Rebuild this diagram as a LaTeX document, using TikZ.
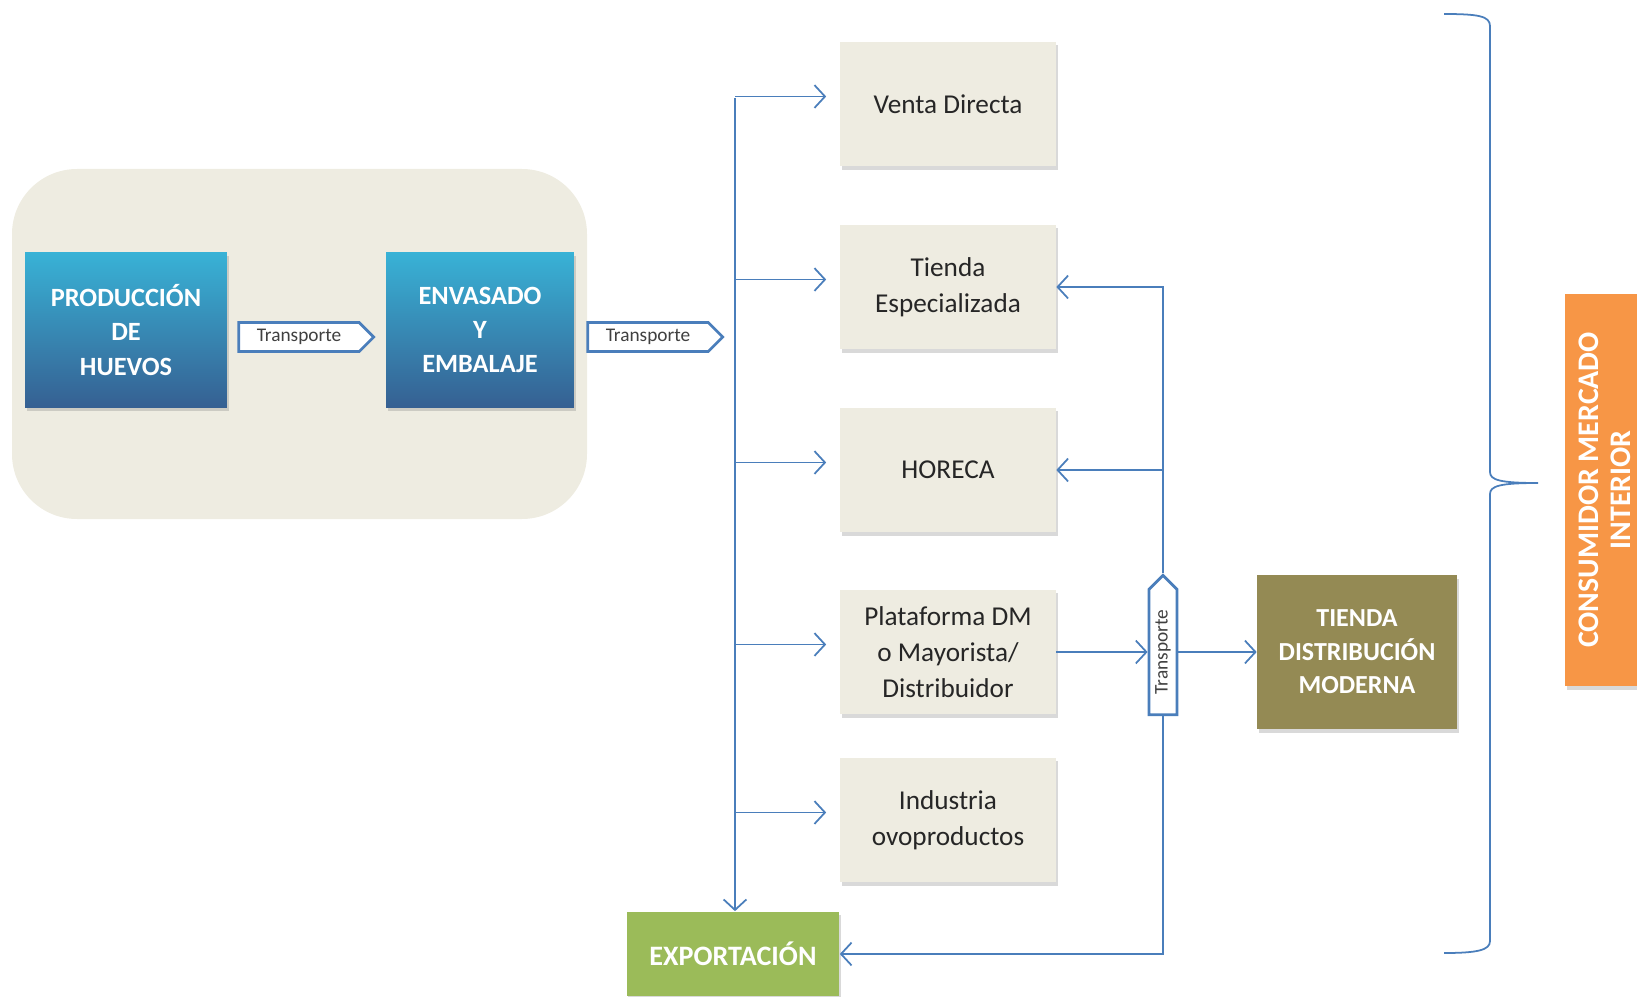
\documentclass[tikz,border=0pt]{standalone}
\usepackage{fontspec}
\setmainfont{Carlito}
\usepackage{xcolor}
\usepackage{tikz}
\usetikzlibrary{arrows.meta, positioning, shapes.symbols, shadows, calc}

\definecolor{linkblue}{HTML}{4A7EBB}
\definecolor{paper}{HTML}{EEECE1}
\definecolor{topblue}{RGB}{56,178,214}
\definecolor{botblue}{RGB}{54,96,146}
\definecolor{olive}{HTML}{948A54}
\definecolor{leaf}{HTML}{9BBB59}
\definecolor{tang}{HTML}{F79646}

\begin{document}
\begin{tikzpicture}[
    x=0.02cm, y=-0.02cm,
    flow/.style={draw=linkblue, line width=1pt, -{Straight Barb[length=6pt,width=13pt]}},
    boxshadow/.style={drop shadow={shadow xshift=1pt, shadow yshift=-2pt, opacity=0.3}},
    stage/.style={top color=topblue, bottom color=botblue, text=white, align=center,
      font=\fontsize{15}{19.5}\selectfont\bfseries, minimum height=3.1cm, boxshadow},
    outlet/.style={fill=paper, text=black!85, align=center, minimum width=4.32cm,
      minimum height=2.5cm, font=\fontsize{15.5}{20.5}\selectfont, boxshadow},
    block/.style={text=white, align=center, font=\fontsize{15.5}{19}\selectfont\bfseries, boxshadow},
    carrier/.style={signal, draw=linkblue, line width=1.6pt, fill=white, signal pointer angle=90,
      inner sep=1pt, text=black!75, font=\fontsize{11}{13}\selectfont}
  ]
  \useasboundingbox (0,0) rectangle (1637,997);
  \fill[paper, rounded corners=1.3cm] (12,169) rectangle (587,519);

  \node[stage, minimum width=4.04cm] (prod) at (126,330) {PRODUCCIÓN\\DE\\HUEVOS};
  \node[stage, minimum width=3.76cm] (env) at (480,330) {ENVASADO\\Y\\EMBALAJE};
  \node[carrier, signal to=east, minimum width=2.7cm, minimum height=0.58cm] (tr1) at (299,337) {Transporte};
  \node[carrier, signal to=east, minimum width=2.7cm, minimum height=0.58cm] (tr2) at (648,337) {Transporte};

  \node[outlet] (vd) at (948,104) {Venta Directa};
  \node[outlet] (te) at (948,287) {Tienda\\Especializada};
  \node[outlet] (ho) at (948,470) {HORECA};
  \node[outlet] (pl) at (948,652) {Plataforma DM\\o Mayorista/\\Distribuidor};
  \node[outlet] (ind) at (948,820) {Industria\\ovoproductos};

  \node[block, fill=leaf, minimum width=4.26cm, minimum height=1.7cm,
    font=\fontsize{16}{19}\selectfont\bfseries] (exp) at (733,954) {EXPORTACIÓN};
  \node[block, fill=olive, minimum width=4cm, minimum height=3.08cm,
    font=\fontsize{14.8}{19}\selectfont\bfseries] (tdm) at (1357,652) {TIENDA\\DISTRIBUCIÓN\\MODERNA};
  \node[block, fill=tang, rotate=90, minimum width=7.86cm, minimum height=1.6cm,
    font=\fontsize{17}{18.5}\selectfont\bfseries] (cmi) at (1605,490) {CONSUMIDOR MERCADO\\INTERIOR};

  \coordinate (trunk) at (735,98);
  \draw[flow] (trunk) -- (trunk |- exp.north);
  \foreach \b in {vd,te,ho,pl,ind}
    \draw[flow] ([yshift=0.15cm]trunk |- \b.west) -- ([xshift=-0.27cm,yshift=0.15cm]\b.west);

  \node[carrier, signal to=north, minimum width=0.56cm, minimum height=2.7cm] (tr3) at (1163,652) {\rotatebox{90}{Transporte}};
  \draw[flow] (tr3.north) |- (te.east);
  \draw[flow] (tr3.north |- ho.east) -- (ho.east);
  \draw[flow] (tr3.south) |- (exp.east);
  \draw[flow] (pl.east) -- (pl.east -| tr3.west);
  \draw[flow] (tr3.east |- tdm.west) -- (tdm.west);

  \draw[linkblue, line width=1pt] (1444,14) .. controls (1478,14) and (1490,16) .. (1490,26)
    -- (1490,472) .. controls (1490,480) and (1500,483) .. (1538,483)
    .. controls (1500,483) and (1490,486) .. (1490,494)
    -- (1490,941) .. controls (1490,950) and (1478,953) .. (1444,953);
\end{tikzpicture}
\end{document}
